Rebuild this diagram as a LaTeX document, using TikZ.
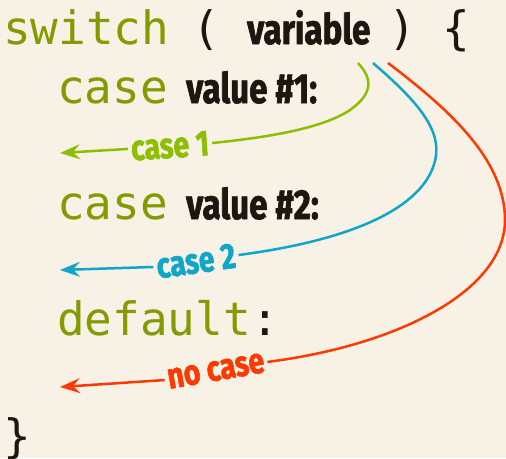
\documentclass[tikz,border=0pt]{standalone}
\usepackage{fontspec}
\usetikzlibrary{arrows.meta}
\setmonofont{DejaVu Sans Mono}
\newfontfamily\condfont[FakeStretch=0.79,FakeBold=1.6]{Fira Sans}

\definecolor{paper}{HTML}{F8F1E6}
\definecolor{kw}{HTML}{849B00}
\definecolor{ink}{HTML}{1E1611}
\definecolor{gcase}{HTML}{8DBE00}
\definecolor{bcase}{HTML}{0FA6C9}
\definecolor{rcase}{HTML}{FF3A00}

\tikzset{
  code/.style={font=\ttfamily\fontsize{46}{46}\selectfont, text=ink, inner sep=0pt, anchor=base west},
  kwd/.style={code, text=kw},
  punct/.style={code, anchor=base},
  val/.style={font=\condfont\bfseries\fontsize{42}{42}\selectfont, text=ink, inner sep=0pt, anchor=base west},
  lbl/.style={font=\condfont\bfseries\fontsize{36}{36}\selectfont, inner sep=3pt},
  flow/.style={line width=2.5pt},
  tip/.style={-{Stealth[length=20pt,width=15pt,inset=7pt]}}
}

\begin{document}
\begin{tikzpicture}[x=1pt,y=-1pt]
  \fill[paper] (0,0) rectangle (506,458);
  \useasboundingbox (0,0) rectangle (506,458);

  % the code
  \node[kwd]   (sw)  at (3,44)    {switch};
  \node[punct] (lp)  at (206,44)  {(};
  \node[val]   (var) at (247,44)  {variable};
  \node[punct] (rp)  at (402,44)  {)};
  \node[punct] (lb)  at (456,44)  {\{};

  \node[kwd]   (c1)  at (57,103)  {case};
  \node[val]   (v1)  at (186,103) {value \#1:};

  \node[kwd]   (c2)  at (57,219)  {case};
  \node[val]   (v2)  at (186,219) {value \#2:};

  \node[kwd]   (df)  at (57,335)  {default};
  \node[code]  (col) at (df.base east) {:};

  \node[code]  (rb)  at (3,452)   {\}};

  % branch labels
  \node[lbl, text=gcase, rotate=4]  (l1) at (170,146) {case 1};
  \node[lbl, text=bcase, rotate=8]  (l2) at (196,261) {case 2};
  \node[lbl, text=rcase, rotate=10] (l3) at (216,371) {no case};

  % branch starts and targets
  \coordinate (g0) at (358,63);
  \coordinate (b0) at (373,63);
  \coordinate (r0) at (388,63);
  \coordinate (g1) at (60,153);
  \coordinate (b1) at (60,270);
  \coordinate (r1) at (60,387);

  % case 1
  \draw[flow, gcase] (g0) .. controls (372,78) and (374,93) .. (350,110)
                          .. controls (320,130) and (260,138) .. (l1.east);
  \draw[flow, gcase, tip] (l1.west) -- (g1);

  % case 2
  \draw[flow, bcase] (b0) .. controls (410,95) and (440,125) .. (436,155)
                          .. controls (432,190) and (390,235) .. (l2.east);
  \draw[flow, bcase, tip] (l2.west) -- (b1);

  % no case
  \draw[flow, rcase] (r0) .. controls (450,110) and (505,160) .. (505,220)
                          .. controls (505,290) and (400,345) .. (l3.east);
  \draw[flow, rcase, tip] (l3.west) -- (r1);
\end{tikzpicture}
\end{document}
